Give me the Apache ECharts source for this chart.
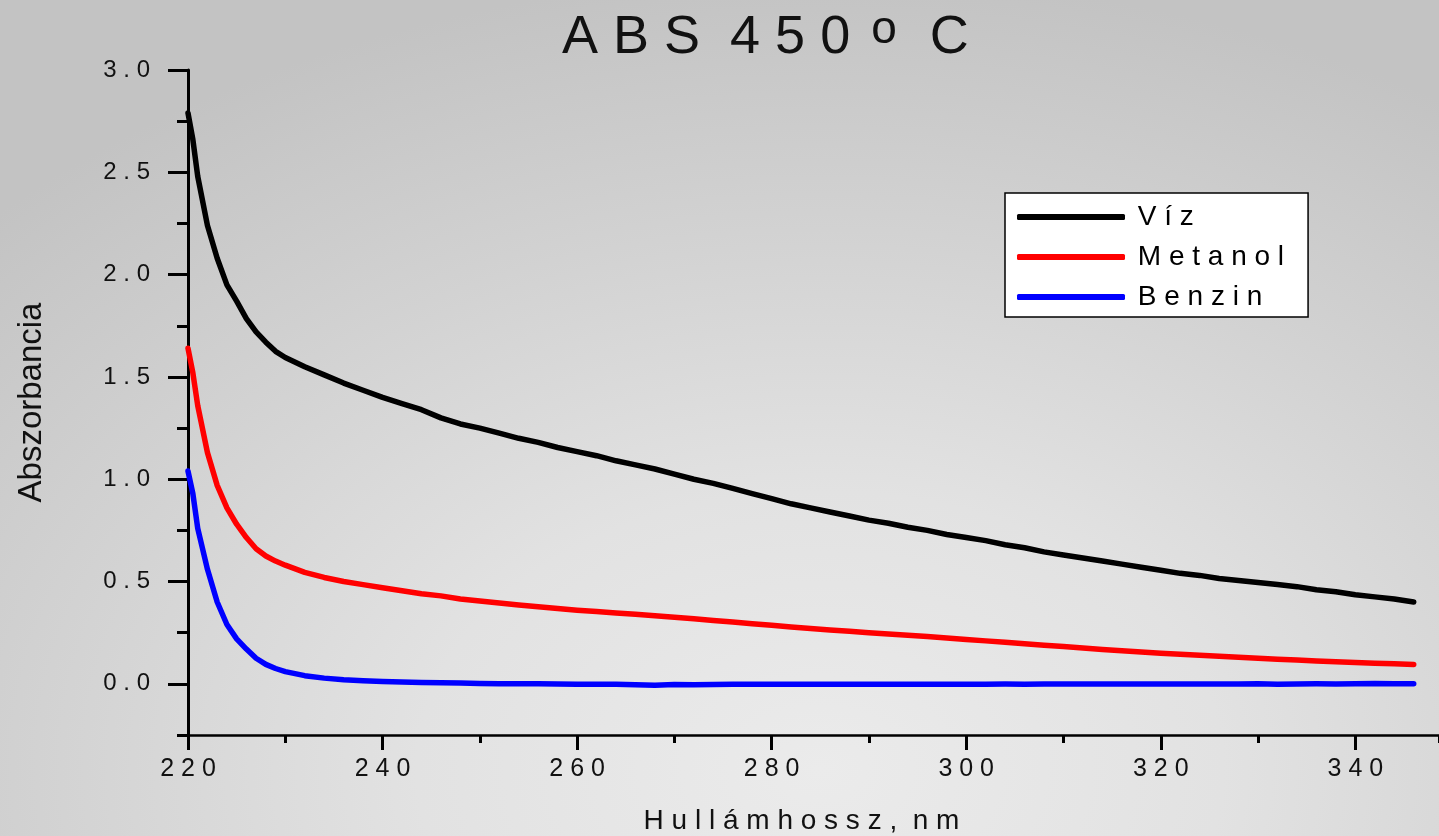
<!DOCTYPE html>
<html>
<head>
<meta charset="utf-8">
<script src="https://cdn.jsdelivr.net/npm/echarts@6/dist/echarts.min.js"></script>
<style>
html,body{margin:0;padding:0;width:1439px;height:836px;overflow:hidden;}
body{background:radial-gradient(ellipse 80% 95% at 57% 92%, #ebebeb 0%, #e2e2e2 35%, #d2d2d2 68%, #c3c3c3 100%);}
#c{width:1439px;height:836px;}
</style>
</head>
<body>
<div id="c"></div>
<script>
// ---- data ----
const wavelength = [220, 220.5, 221, 222, 223, 224, 225, 226, 227, 228, 229,
  230, 232, 234, 236, 238, 240, 242, 244, 246, 248, 250, 252, 254, 256, 258,
  260, 262, 264, 266, 268, 270, 272, 274, 276, 278, 280, 282, 284, 286, 288,
  290, 292, 294, 296, 298, 300, 302, 304, 306, 308, 310, 312, 314, 316, 318,
  320, 322, 324, 326, 328, 330, 332, 334, 336, 338, 340, 342, 344, 346];

const viz = [2.79, 2.66, 2.48, 2.24, 2.08, 1.95, 1.87, 1.785, 1.72, 1.67, 1.625,
  1.595, 1.55, 1.51, 1.47, 1.435, 1.40, 1.37, 1.34, 1.30, 1.27, 1.25, 1.225, 1.20, 1.18, 1.155,
  1.135, 1.115, 1.09, 1.07, 1.05, 1.025, 1.00, 0.98, 0.955, 0.93, 0.905, 0.88, 0.86, 0.84, 0.82,
  0.80, 0.785, 0.765, 0.75, 0.73, 0.715, 0.70, 0.68, 0.665, 0.645, 0.63, 0.615, 0.60, 0.585, 0.57,
  0.555, 0.54, 0.53, 0.515, 0.505, 0.495, 0.485, 0.475, 0.46, 0.45, 0.435, 0.425, 0.415, 0.40];

const metanol = [1.64, 1.52, 1.36, 1.13, 0.97, 0.86, 0.78, 0.715, 0.66, 0.625, 0.60,
  0.58, 0.545, 0.52, 0.50, 0.485, 0.47, 0.455, 0.44, 0.43, 0.415, 0.405, 0.395, 0.385, 0.377, 0.368,
  0.36, 0.353, 0.346, 0.34, 0.333, 0.326, 0.318, 0.31, 0.302, 0.294, 0.286, 0.278, 0.27, 0.263, 0.257,
  0.25, 0.244, 0.238, 0.231, 0.224, 0.217, 0.21, 0.203, 0.196, 0.189, 0.182, 0.175, 0.168, 0.162, 0.156,
  0.15, 0.145, 0.14, 0.135, 0.13, 0.125, 0.12, 0.116, 0.112, 0.108, 0.104, 0.101, 0.098, 0.095];

const benzin = [1.04, 0.93, 0.76, 0.56, 0.40, 0.29, 0.22, 0.17, 0.125, 0.095, 0.075,
  0.06, 0.04, 0.028, 0.02, 0.015, 0.011, 0.009, 0.007, 0.005, 0.004, 0.002, 0.001, 0.0, 0.0, -0.001,
  -0.002, -0.002, -0.002, -0.004, -0.007, -0.003, -0.004, -0.003, -0.002, -0.002, -0.002, -0.002, -0.002, -0.002, -0.002,
  -0.002, -0.002, -0.002, -0.002, -0.002, -0.002, -0.002, -0.001, -0.002, -0.001, -0.001, -0.001, -0.001, -0.001, -0.001,
  -0.001, -0.001, -0.001, -0.001, -0.001, 0.0, -0.002, -0.001, 0.0, -0.001, 0.0, 0.002, 0.0, 0.0];

const seriesNames = ['Víz', 'Metanol', 'Benzin'];
const seriesColors = ['#000000', '#ff0000', '#0000ff'];
const xMajorTicks = [220, 240, 260, 280, 300, 320, 340];
const yMajorTicks = [0, 0.5, 1.0, 1.5, 2.0, 2.5, 3.0];
const titleText = 'ABS 450 ºC';
const xName = 'Hullámhossz, nm';
const yName = 'Abszorbancia';

// ---- helpers ----
const spaced = s => String(s).split('').join(' ');
const pairs = vals => wavelength.map((w, i) => [w, vals[i]]);

const X_MIN = 220, X_MAX = 348.6, Y_MIN = -0.25, Y_MAX = 3.0;
const FONT = '"Liberation Sans", Arial, sans-serif';

const chart = echarts.init(document.getElementById('c'), null, {renderer: 'canvas'});
chart.setOption({
  backgroundColor: 'transparent',
  animation: false,
  grid: {left: 188, right: 0, top: 70, bottom: 101, containLabel: false, outerBoundsMode: 'none'},
  graphic: [{
    type: 'text', left: 562, top: 7,
    style: {
      text: '{n|A B S  4 5 0 }{o|o}{n|  C}',
      rich: {
        n: {fontSize: 54, fontFamily: FONT, fill: '#111', lineHeight: 62},
        o: {fontSize: 46, fontFamily: FONT, fill: '#111', lineHeight: 46, verticalAlign: 'top', padding: [0, 3, 0, 6]}
      }
    }
  }],
  legend: {
    orient: 'vertical', left: 1005, top: 193,
    data: seriesNames,
    icon: 'roundRect', itemWidth: 108, itemHeight: 6, itemGap: 12,
    padding: [10, 24, 6, 12],
    backgroundColor: '#ffffff', borderColor: '#000000', borderWidth: 1.5, borderRadius: 0,
    formatter: name => ' ' + spaced(name),
    textStyle: {fontSize: 28, fontFamily: FONT, color: '#000', lineHeight: 28}
  },
  xAxis: [{
    type: 'value', min: X_MIN, max: X_MAX, interval: 20,
    name: spaced(xName).replace(',   ', ',  '), nameLocation: 'middle', nameGap: 72,
    nameTextStyle: {fontSize: 28, fontFamily: FONT, color: '#111', padding: [0, 24, 0, 0]},
    axisLine: {show: true, onZero: false, lineStyle: {color: '#000', width: 2.5}},
    axisTick: {show: true, inside: false, length: 15, lineStyle: {color: '#000', width: 3}, customValues: xMajorTicks},
    axisLabel: {show: true, margin: 22, fontSize: 25, fontFamily: FONT, color: '#111',
      customValues: xMajorTicks, formatter: v => spaced(Math.round(v))},
    splitLine: {show: false}
  }, {
    type: 'value', min: X_MIN, max: X_MAX, interval: 10, position: 'bottom',
    axisLine: {show: false, onZero: false},
    axisTick: {show: true, inside: false, length: 8, lineStyle: {color: '#000', width: 3}},
    axisLabel: {show: false},
    splitLine: {show: false}
  }],
  yAxis: [{
    type: 'value', min: Y_MIN, max: Y_MAX, interval: 0.25,
    name: yName, nameLocation: 'middle', nameGap: 140, nameRotate: 90,
    nameTextStyle: {fontSize: 33, fontFamily: FONT, color: '#111'},
    axisLine: {show: true, onZero: false, lineStyle: {color: '#000', width: 3}},
    axisTick: {show: true, inside: false, length: 20, lineStyle: {color: '#000', width: 3}, customValues: yMajorTicks},
    axisLabel: {show: true, margin: 38, fontSize: 24, fontFamily: FONT, color: '#111',
      customValues: yMajorTicks, formatter: v => spaced(v.toFixed(1))},
    splitLine: {show: false}
  }, {
    type: 'value', min: Y_MIN, max: Y_MAX, interval: 0.25, position: 'left',
    axisLine: {show: false, onZero: false},
    axisTick: {show: true, inside: false, length: 11, lineStyle: {color: '#000', width: 3}},
    axisLabel: {show: false},
    splitLine: {show: false}
  }],
  series: [viz, metanol, benzin].map((vals, i) => ({
    name: seriesNames[i], type: 'line', data: pairs(vals),
    xAxisIndex: 0, yAxisIndex: 0,
    showSymbol: false, smooth: false,
    lineStyle: {color: seriesColors[i], width: 5.5, cap: 'round', join: 'round'},
    itemStyle: {color: seriesColors[i]}
  }))
});
</script>
</body>
</html>
